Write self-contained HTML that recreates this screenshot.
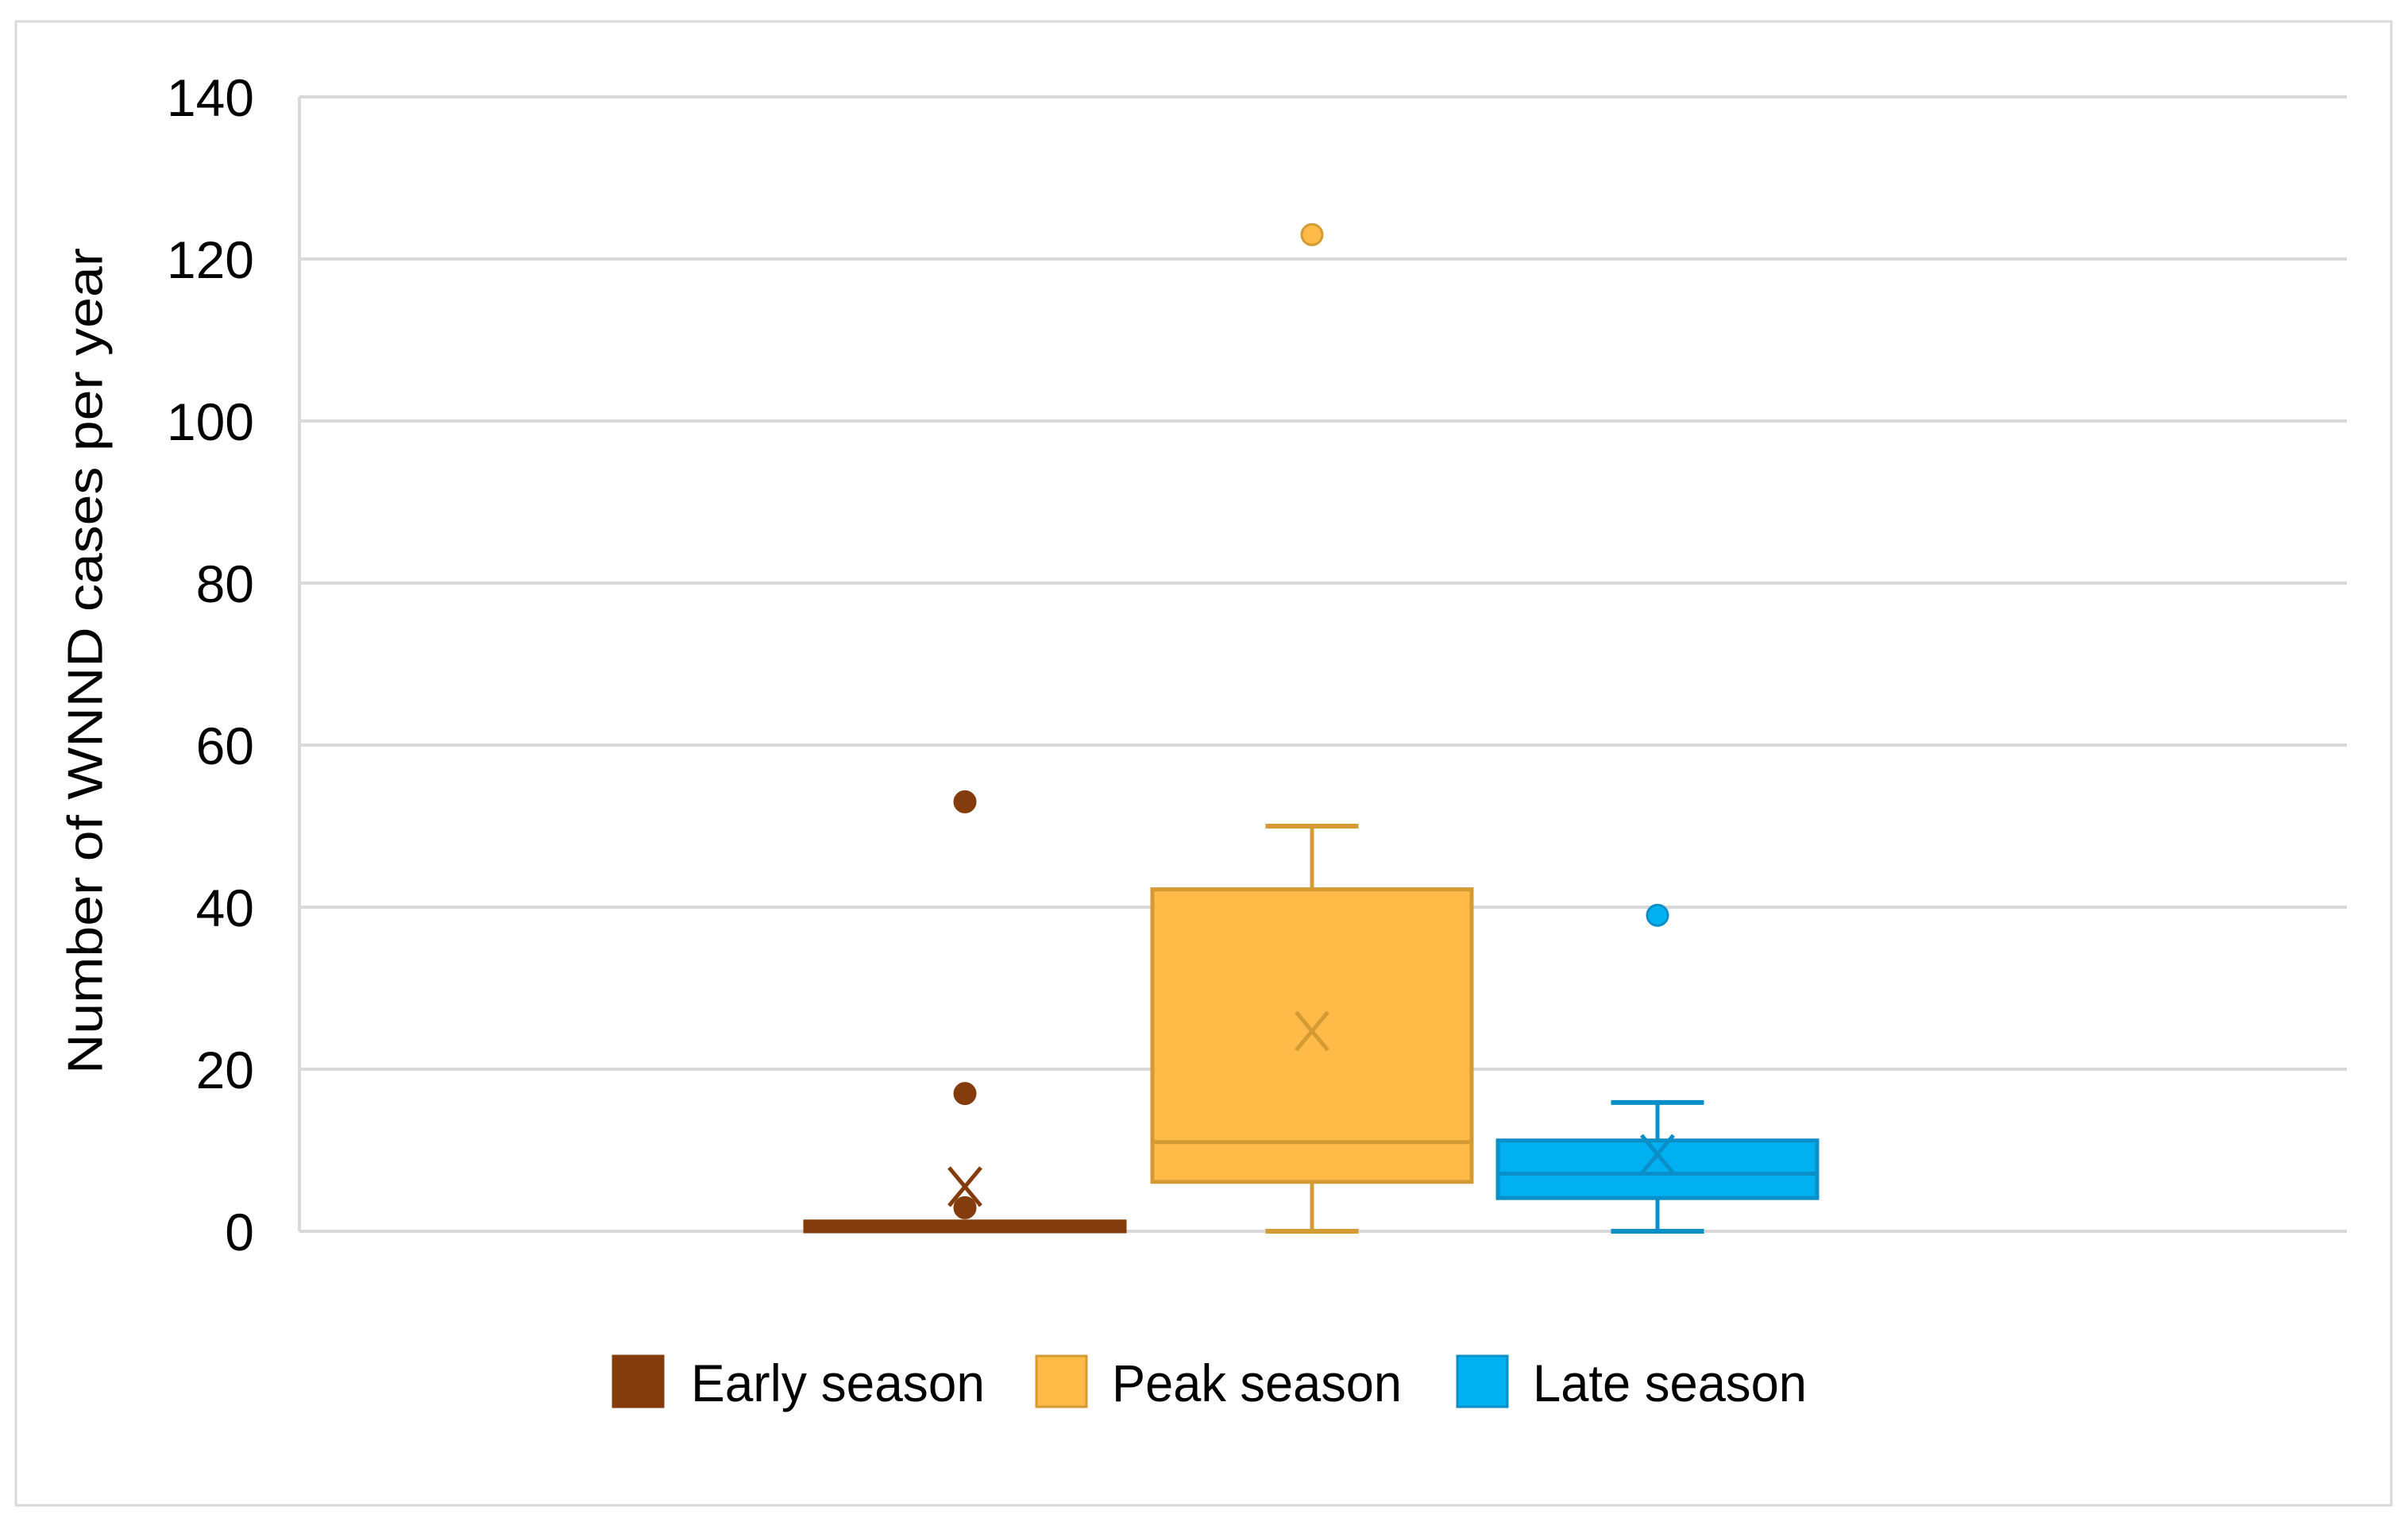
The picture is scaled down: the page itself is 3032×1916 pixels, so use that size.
<!DOCTYPE html>
<html><head><meta charset="utf-8"><style>
html,body{margin:0;padding:0;background:#fff;}
svg{display:block;font-family:"Liberation Sans",sans-serif;}
</style></head><body>
<svg id="chart" width="3032" height="1916" viewBox="0 0 3032 1916">
<rect x="20" y="27" width="2991" height="1868" fill="#fff" stroke="#d9d9d9" stroke-width="3"/>
<g id="grid"></g>
<g id="yticks"></g>
<text x="112" y="832" transform="rotate(-90 112 832)" text-anchor="middle" dominant-baseline="middle" font-size="62" fill="#000" textLength="1040" lengthAdjust="spacingAndGlyphs">Number of WNND cases per year</text>
<g id="boxes"></g>
<g id="legend"></g>
</svg>
<script>
const categories = ["Early season","Peak season","Late season"];
const q1Values = [0, 6.1, 4.1];
const q3Values = [1.2, 42.2, 11.2];
const medianValues = [0, 11, 7.1];
const whiskerLow = [0, 0, 0];
const whiskerHigh = [1.2, 50, 15.9];
const meanValues = [5.5, 24.7, 9.5];
const outliers = [[53, 17, 2.9], [123], [39]];
const yTicks = [0,20,40,60,80,100,120,140];
const fills = ["#843c0c","#ffba47","#00b0f0"];
const strokes = ["#843c0c","#d49b35","#0a8fc8"];

const NS="http://www.w3.org/2000/svg";
const X0=377, X1=2955, Y0=1550, YPX=10.2;
const centers=[1215,1652,2087];
const BW=402, CAP=117;
function y(v){return Y0 - v*YPX;}
function mk(tag, attrs, parent){const e=document.createElementNS(NS,tag);for(const k in attrs)e.setAttribute(k,attrs[k]);parent.appendChild(e);return e;}

const grid=document.getElementById('grid'), yt=document.getElementById('yticks');
yTicks.forEach(t=>{
  const l=mk('line',{x1:X0,x2:X1,y1:y(t),y2:y(t),stroke:'#d9d9d9','stroke-width':4},grid);
  
  
  const tx=mk('text',{x:320,y:y(t)+24,'text-anchor':'end','font-size':66,fill:'#000'},yt);
  tx.textContent=t;
  
  
});
mk('line',{x1:X0,x2:X0,y1:y(140),y2:Y0,stroke:'#d9d9d9','stroke-width':4},grid);

const boxes=document.getElementById('boxes');
categories.forEach((c,i)=>{
  const cx=centers[i], g=mk('g',{},boxes);
  
  
  const st=strokes[i];
  // whiskers
  mk('line',{x1:cx,x2:cx,y1:y(q3Values[i]),y2:y(whiskerHigh[i]),stroke:st,'stroke-width':5},g);
  mk('line',{x1:cx,x2:cx,y1:y(q1Values[i]),y2:y(whiskerLow[i]),stroke:st,'stroke-width':5},g);
  if(whiskerHigh[i]>q3Values[i]) mk('line',{x1:cx-CAP/2,x2:cx+CAP/2,y1:y(whiskerHigh[i]),y2:y(whiskerHigh[i]),stroke:st,'stroke-width':6},g);
  if(whiskerLow[i]<q1Values[i]) mk('line',{x1:cx-CAP/2,x2:cx+CAP/2,y1:y(whiskerLow[i]),y2:y(whiskerLow[i]),stroke:st,'stroke-width':6},g);
  mk('rect',{x:cx-BW/2,y:y(q3Values[i]),width:BW,height:Math.max(y(q1Values[i])-y(q3Values[i]),1),fill:fills[i],stroke:st,'stroke-width':5},g);
  mk('line',{x1:cx-BW/2,x2:cx+BW/2,y1:y(medianValues[i]),y2:y(medianValues[i]),stroke:st,'stroke-width':5},g);
  const my=y(meanValues[i]);
  mk('path',{d:`M${cx-20} ${my-24}L${cx+20} ${my+24}M${cx+20} ${my-24}L${cx-20} ${my+24}`,stroke:st,'stroke-width':5,fill:'none'},g);
  outliers[i].forEach(o=>{
    const d=mk('circle',{cx:cx,cy:y(o),r:13,fill:fills[i],stroke:st,'stroke-width':3},g);
    
    
  });
});

const legend=document.getElementById('legend');
const lx=[772,1305,1835], tx=[870,1400,1930], tw=[370,365,345];
categories.forEach((c,i)=>{
  const g=mk('g',{},legend);
  
  
  mk('rect',{x:lx[i],y:1707,width:63,height:64,fill:fills[i],stroke:strokes[i],'stroke-width':3},g);
  const t=mk('text',{x:tx[i],y:1764,'font-size':66,fill:'#000',textLength:tw[i],lengthAdjust:'spacingAndGlyphs'},g);
  t.textContent=c;
});
</script>
</body></html>
